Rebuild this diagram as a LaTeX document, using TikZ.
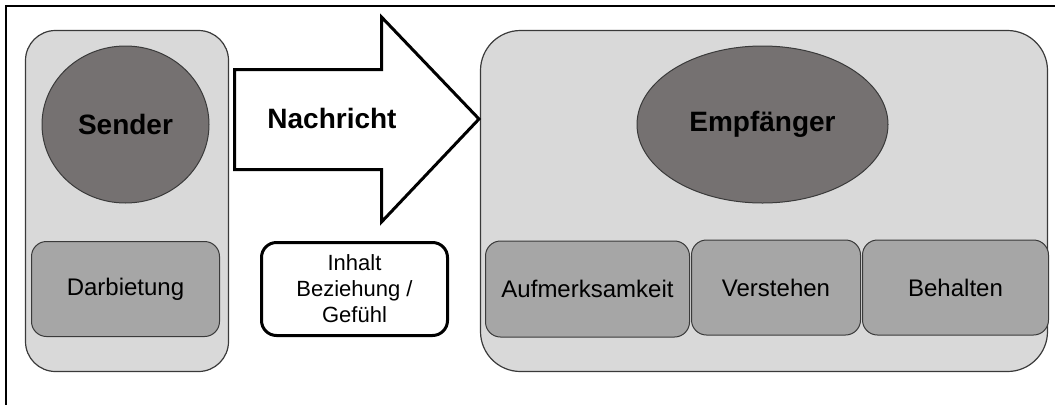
\documentclass[tikz,border=0pt]{standalone}
\usepackage{fontspec}
\setmainfont{Liberation Sans}
\usetikzlibrary{shapes}
\definecolor{outerfill}{HTML}{D9D9D9}
\definecolor{headfill}{HTML}{757171}
\definecolor{partfill}{HTML}{A6A6A6}
\definecolor{edge}{HTML}{3A3A3A}
\tikzstyle{group} = [rectangle, draw=edge, fill=outerfill, rounded corners=30pt,
    line width=1.2pt, inner sep=0pt]
\tikzstyle{person} = [ellipse, draw=edge, fill=headfill, line width=1pt,
    inner sep=0pt, font=\fontsize{28}{30}\selectfont\bfseries]
\tikzstyle{part} = [rectangle, draw=edge, fill=partfill, rounded corners=15pt,
    line width=1pt, inner sep=0pt, font=\fontsize{24}{26}\selectfont]
\tikzstyle{note} = [rectangle, draw, fill=white, rounded corners=15pt,
    line width=3pt, inner sep=0pt, align=center, font=\fontsize{22}{26}\selectfont]
\tikzstyle{message} = [draw, fill=white, line width=3pt, miter limit=10]

\begin{document}
\begin{tikzpicture}[x=1pt, y=-1pt]
		\useasboundingbox (0,0) rectangle (1055,405);
		\draw [line width=2pt] (1055,6) -- (6,6) -- (6,405);
		
		% Sender
		\node [group, minimum width=203pt, minimum height=341pt] (sendgroup) at (127,201) {};
		\node [person, minimum width=167pt, minimum height=157pt] (sender) at (125.5,124.5) {Sender};
		\node [part, minimum width=188pt, minimum height=95pt] (darbietung) at (125.5,289) {Darbietung};
		
		% Empfaenger
		\node [group, rounded corners=40pt, minimum width=567pt, minimum height=341pt] (empfgroup) at (764,201) {};
		\node [person, minimum width=251pt, minimum height=157pt] (empfaenger) at (762.5,124.5) {Empfänger};
		\node [part, minimum width=204pt, minimum height=96pt] (aufmerksamkeit) at (587.5,289) {Aufmerksamkeit};
		\node [part, minimum width=169pt, minimum height=95pt] (verstehen) at (776,287.5) {Verstehen};
		\node [part, minimum width=186pt, minimum height=95pt] (behalten) at (955.5,287.5) {Behalten};
		
		% Nachricht
		\draw [message] (234.5,69.5) -- (381.5,69.5) -- (381.5,17) -- (479,119)
			-- (381.5,222) -- (381.5,169.5) -- (234.5,169.5) -- cycle;
		\node [font=\fontsize{28}{30}\selectfont\bfseries] (nachricht) at (332,118) {Nachricht};
		\node [note, minimum width=186pt, minimum height=93pt] (inhalt) at (354.5,289)
			{Inhalt\\Beziehung /\\Gefühl};
	\end{tikzpicture}
\end{document}
